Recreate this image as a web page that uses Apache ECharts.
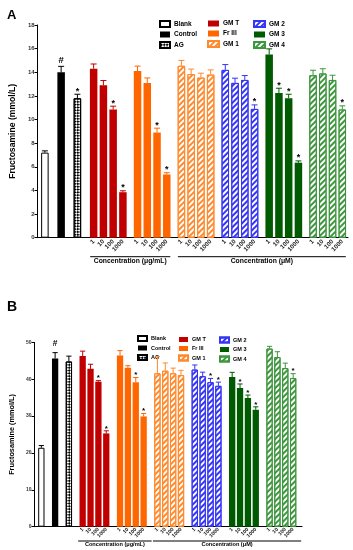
<!DOCTYPE html>
<html><head><meta charset="utf-8">
<script src="https://cdn.jsdelivr.net/npm/echarts@6/dist/echarts.min.js"></script>
<style>html,body{margin:0;padding:0;background:#fff}#c{width:353px;height:550px}</style>
</head><body><div id="c"></div>
<script>
// ---------- DATA ----------
const groupNames = ['Blank', 'Control', 'AG', 'GM T', 'Fr III', 'GM 1', 'GM 2', 'GM 3', 'GM 4'];
const concLabels = ['1', '10', '100', '1000'];
const unitLabels = ['Concentration (μg/mL)', 'Concentration (μM)'];

// Panel A (Blank, Control, AG then 4 concentrations per treatment)
const aControls = [7.2, 14.0, 11.8];
const aControlsErr = [0.15, 0.5, 0.34];
const aControlsMark = ['', '#', '*'];
const aGMT = [14.3, 12.9, 10.85, 3.85];
const aGMTErr = [0.4, 0.4, 0.28, 0.12];
const aGMTMark = ['', '', '*', '*'];
const aFrIII = [14.1, 13.1, 8.9, 5.35];
const aFrIIIErr = [0.42, 0.42, 0.37, 0.15];
const aFrIIIMark = ['', '', '*', '*'];
const aGM1 = [14.55, 13.85, 13.55, 13.8];
const aGM1Err = [0.45, 0.42, 0.37, 0.4];
const aGM1Mark = ['', '', '', ''];
const aGM2 = [14.2, 13.1, 13.35, 10.9];
const aGM2Err = [0.45, 0.4, 0.37, 0.34];
const aGM2Mark = ['', '', '', '*'];
const aGM3 = [15.5, 12.25, 11.8, 6.35];
const aGM3Err = [0.48, 0.4, 0.34, 0.15];
const aGM3Mark = ['', '*', '*', '*'];
const aGM4 = [13.75, 13.9, 13.35, 10.85];
const aGM4Err = [0.42, 0.4, 0.4, 0.31];
const aGM4Mark = ['', '', '', '*'];

// Panel B
const bControls = [21.4, 45.6, 44.8];
const bControlsErr = [0.6, 1.6, 1.45];
const bControlsMark = ['', '#', ''];
const bGMT = [46.3, 42.8, 39.3, 25.3];
const bGMTErr = [1.3, 1.25, 0.3, 0.7];
const bGMTMark = ['', '', '*', '*'];
const bFrIII = [46.4, 43.1, 39.2, 29.9];
const bFrIIIErr = [1.35, 0.55, 1.25, 0.8];
const bFrIIIMark = ['', '', '*', '*'];
const bGM1 = [41.6, 42.3, 41.6, 41.1];
const bGM1Err = [4.5, 2.1, 1.4, 1.3];
const bGM1Mark = ['', '', '', ''];
const bGM2 = [42.6, 40.8, 39.2, 38.2];
const bGM2Err = [1.25, 1.1, 1.0, 1.0];
const bGM2Mark = ['', '', '*', '*'];
const bGM3 = [40.6, 37.6, 34.9, 31.7];
const bGM3Err = [1.25, 1.1, 0.8, 0.8];
const bGM3Mark = ['', '*', '*', '*'];
const bGM4 = [48.3, 46.0, 43.0, 40.3];
const bGM4Err = [0.6, 1.45, 1.35, 1.2];
const bGM4Mark = ['', '', '', '*'];

// ---------- STYLE ----------
const FONT = '"Liberation Sans", Arial, sans-serif';
const colRed = '#C00000', colOrange = '#FF6600', colOrangeH = '#FF8A2E',
      colBlue = '#3535F5', colGreen = '#005A00', colGreenH = '#3E963E';
function hatch(c) {
  return { symbol: 'rect', symbolSize: 1, color: c, dashArrayX: [1, 0], dashArrayY: [1.6, 1.8], rotation: -Math.PI / 4 };
}
const groupStyles = [
  { color: '#fff', borderColor: '#000', borderWidth: 1, stroke: '#000' },
  { color: '#000', stroke: '#000' },
  { color: '#fff', borderColor: '#000', borderWidth: 1, stroke: '#000',
    decal: { symbol: 'rect', symbolSize: 1, color: '#000', dashArrayX: [[1.5, 1.5], [0, 1.5, 1.5, 0]], dashArrayY: [1.5, 0], rotation: Math.PI / 4 } },
  { color: colRed, stroke: colRed },
  { color: colOrange, stroke: colOrange },
  { color: '#fff', borderColor: colOrangeH, borderWidth: 1, stroke: colOrangeH, decal: hatch(colOrangeH) },
  { color: '#fff', borderColor: colBlue, borderWidth: 1, stroke: colBlue, decal: hatch(colBlue) },
  { color: colGreen, stroke: colGreen },
  { color: '#fff', borderColor: colGreenH, borderWidth: 1, stroke: colGreenH, decal: hatch(colGreenH) }
];

// slot layout on a fine category axis
function layoutSlots(first, ctrlGap, pitch, groupGap) {
  const slots = [[first], [first + ctrlGap], [first + 2 * ctrlGap]];
  let s = first + 3 * ctrlGap;
  for (let g = 0; g < 6; g++) {
    const arr = [];
    for (let k = 0; k < 4; k++) arr.push(s + k * pitch);
    slots.push(arr);
    s += 3 * pitch + groupGap;
  }
  return slots;
}

const panels = [
  {
    N: 191, slots: layoutSlots(4, 10, 6, 9),
    vals: [[aControls[0]], [aControls[1]], [aControls[2]], aGMT, aFrIII, aGM1, aGM2, aGM3, aGM4],
    errs: [[aControlsErr[0]], [aControlsErr[1]], [aControlsErr[2]], aGMTErr, aFrIIIErr, aGM1Err, aGM2Err, aGM3Err, aGM4Err],
    marks: [[aControlsMark[0]], [aControlsMark[1]], [aControlsMark[2]], aGMTMark, aFrIIIMark, aGM1Mark, aGM2Mark, aGM3Mark, aGM4Mark],
    grid: { left: 32, right: 5, top: 25, bottom: 312.3 },
    ymax: 18, yint: 2, barWidth: 7.5, cap: 3, tickFont: 6.2, yFont: 6, titleFont: 8.6, nameGap: 19,
    starFont: 9, starOff: 3, hashOff: 5.5, labelMargin: 3,
    brY: 19, brTextY: 23.5, brL: -3.5, brR: 3.5, brFont: 6.8
  },
  {
    N: 136, slots: layoutSlots(3, 7, 4, 7),
    vals: [[bControls[0]], [bControls[1]], [bControls[2]], bGMT, bFrIII, bGM1, bGM2, bGM3, bGM4],
    errs: [[bControlsErr[0]], [bControlsErr[1]], [bControlsErr[2]], bGMTErr, bFrIIIErr, bGM1Err, bGM2Err, bGM3Err, bGM4Err],
    marks: [[bControlsMark[0]], [bControlsMark[1]], [bControlsMark[2]], bGMTMark, bFrIIIMark, bGM1Mark, bGM2Mark, bGM3Mark, bGM4Mark],
    grid: { left: 27, right: 51, top: 342.3, bottom: 23.3 },
    ymax: 50, yint: 10, barWidth: 6.3, cap: 2.6, tickFont: 5.2, yFont: 5, titleFont: 7.3, nameGap: 17,
    starFont: 8, starOff: 2.5, hashOff: 9, labelMargin: 2,
    brY: 14.3, brTextY: 18, brL: -4.5, brR: 8, brFont: 5.6
  }
];

const xAxes = [], yAxes = [], grids = [], series = [];
panels.forEach((P, pi) => {
  grids.push(P.grid);
  const cats = [];
  for (let i = 0; i < P.N; i++) cats.push('s' + i);
  const labelMap = {}, slotSet = new Set();
  P.slots.forEach((arr, g) => arr.forEach((s, k) => {
    slotSet.add(s);
    if (g >= 3) labelMap[s] = concLabels[k];
  }));
  xAxes.push({
    type: 'category', gridIndex: pi, data: cats, boundaryGap: true,
    axisLine: { lineStyle: { color: '#000', width: 1 } },
    axisTick: { alignWithLabel: true, length: 2, interval: (i) => slotSet.has(i), lineStyle: { color: '#000' } },
    axisLabel: { interval: 0, rotate: 45, margin: P.labelMargin, fontSize: P.tickFont, fontWeight: 'bold', fontFamily: FONT, color: '#222',
      formatter: (v, i) => labelMap[i] || '' },
    splitLine: { show: false }
  });
  yAxes.push({
    type: 'value', gridIndex: pi, min: 0, max: P.ymax, interval: P.yint,
    name: 'Fructosamine (mmol/L)', nameLocation: 'middle', nameGap: P.nameGap,
    nameTextStyle: { fontSize: P.titleFont, fontWeight: 'bold', fontFamily: FONT, color: '#000' },
    axisLine: { show: true, lineStyle: { color: '#000', width: 1 } },
    axisTick: { show: true, length: 3, lineStyle: { color: '#000' } },
    axisLabel: { fontSize: P.yFont, fontWeight: 'bold', fontFamily: FONT, color: '#333', margin: 3 },
    splitLine: { show: false }
  });
  const errItems = [];
  P.slots.forEach((arr, g) => {
    const data = new Array(P.N).fill(null);
    arr.forEach((s, k) => {
      data[s] = P.vals[g][k];
      errItems.push({ value: [s, P.vals[g][k], P.errs[g][k]], mark: P.marks[g][k], color: groupStyles[g].stroke });
    });
    const st = groupStyles[g];
    const itemStyle = { color: st.color };
    if (st.borderColor) { itemStyle.borderColor = st.borderColor; itemStyle.borderWidth = st.borderWidth; }
    if (st.decal) itemStyle.decal = st.decal;
    series.push({
      type: 'bar', name: groupNames[g], xAxisIndex: pi, yAxisIndex: pi, data,
      barWidth: P.barWidth, barGap: '-100%', itemStyle, silent: true, animation: false
    });
  });
  series.push({
    type: 'custom', xAxisIndex: pi, yAxisIndex: pi, clip: false, z: 5, animation: false, silent: true,
    data: errItems.map(e => e.value),
    renderItem: (params, api) => {
      const it = errItems[params.dataIndex];
      const x = api.value(0), v = api.value(1), e = api.value(2);
      const p0 = api.coord([x, v]), p1 = api.coord([x, v + e]);
      const ch = [
        { type: 'line', shape: { x1: p0[0], y1: p0[1], x2: p1[0], y2: p1[1] }, style: { stroke: it.color, lineWidth: 1 } },
        { type: 'line', shape: { x1: p1[0] - P.cap, y1: p1[1], x2: p1[0] + P.cap, y2: p1[1] }, style: { stroke: it.color, lineWidth: 1 } }
      ];
      if (it.mark) {
        const off = it.mark === '#' ? P.hashOff : P.starOff;
        ch.push({ type: 'text', x: p1[0], y: p1[1] - off,
          style: { text: it.mark, fill: '#000', fontSize: it.mark === '#' ? P.starFont * 1.05 : P.starFont, fontWeight: 'bold', fontFamily: FONT,
            align: 'center', verticalAlign: 'middle' } });
      }
      return { type: 'group', children: ch };
    }
  });
  // concentration brackets under the treatment groups
  const brackets = [[P.slots[3][0], P.slots[4][3]], [P.slots[5][0], P.slots[8][3]]];
  series.push({
    type: 'custom', xAxisIndex: pi, yAxisIndex: pi, clip: false, z: 5, animation: false, silent: true,
    data: brackets,
    renderItem: (params, api) => {
      const a = api.coord([api.value(0), 0]), b = api.coord([api.value(1), 0]);
      const x1 = a[0] + P.brL, x2 = b[0] + P.brR, y = a[1] + P.brY;
      return { type: 'group', children: [
        { type: 'line', shape: { x1, y1: y, x2, y2: y }, style: { stroke: '#000', lineWidth: 1 } },
        { type: 'text', x: (x1 + x2) / 2, y: a[1] + P.brTextY,
          style: { text: unitLabels[params.dataIndex], fill: '#000', fontSize: P.brFont, fontWeight: 'bold', fontFamily: FONT, align: 'center', verticalAlign: 'middle' } }
      ] };
    }
  });
});

function leg(left, top, names, w, h, font, gap) {
  return { left, top, orient: 'vertical', data: names, icon: 'rect', itemWidth: w, itemHeight: h, itemGap: gap,
    selectedMode: false, padding: 0,
    textStyle: { fontSize: font, fontWeight: 'bold', fontFamily: FONT, color: '#000', lineHeight: h, padding: [0, 0, 0, -1] } };
}
const legends = [
  leg(159, 20, groupNames.slice(0, 3), 10, 6, 6.5, 3),
  leg(207, 20, groupNames.slice(3, 6), 11, 6, 6.5, 3),
  leg(253, 20, groupNames.slice(6, 9), 11, 6, 6.5, 3),
  leg(137, 335, groupNames.slice(0, 3), 9, 5, 5.5, 3),
  leg(178, 336.5, groupNames.slice(3, 6), 9, 5, 5.5, 3),
  leg(219, 336.5, groupNames.slice(6, 9), 9, 5, 5.5, 3)
];

const chart = echarts.init(document.getElementById('c'), null, { renderer: 'canvas' });
chart.setOption({
  animation: false,
  backgroundColor: '#fff',
  title: [
    { text: 'A', left: 2, top: 4, textStyle: { fontSize: 13, fontWeight: 'bold', fontFamily: FONT, color: '#000' } },
    { text: 'B', left: 2, top: 295, textStyle: { fontSize: 14, fontWeight: 'bold', fontFamily: FONT, color: '#000' } }
  ],
  legend: legends,
  grid: grids,
  xAxis: xAxes,
  yAxis: yAxes,
  series
});
</script></body></html>
